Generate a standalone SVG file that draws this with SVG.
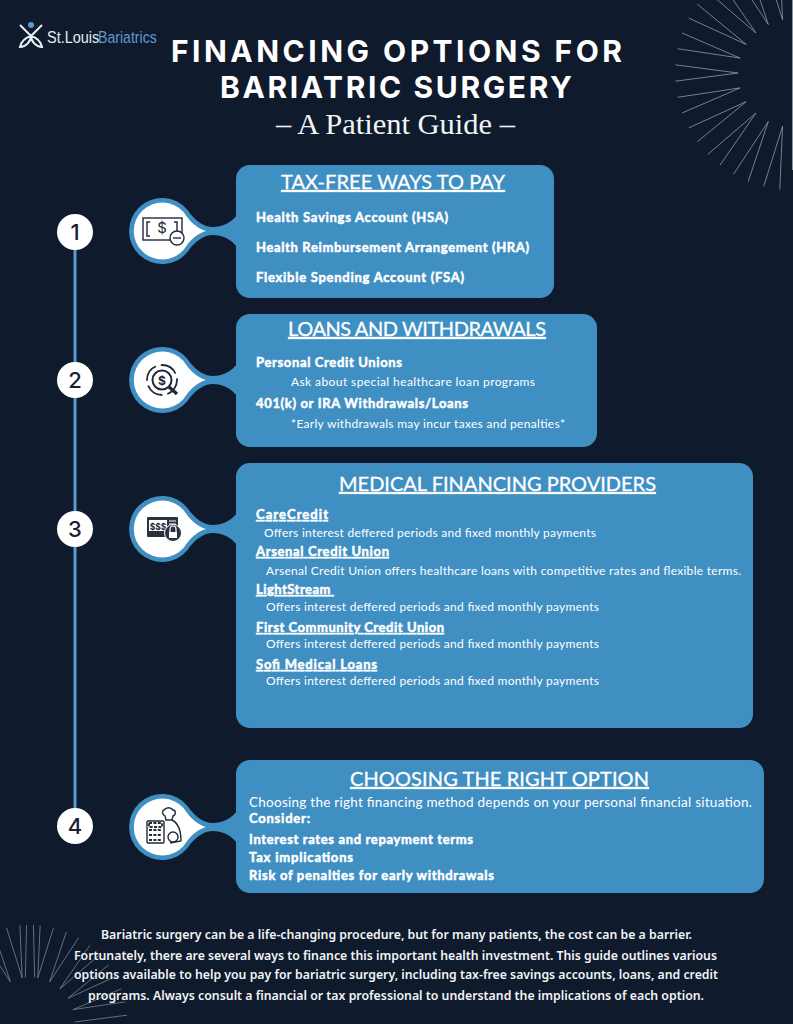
<svg xmlns="http://www.w3.org/2000/svg" xmlns:xlink="http://www.w3.org/1999/xlink" width="793" height="1024" viewBox="0 0 793 1024">
<style>
.t{font-family:"Lato","Liberation Sans",sans-serif;fill:#fff}
.h{font-size:20px;font-weight:400;text-decoration:underline;stroke:#fff;stroke-width:.3}
.b{font-size:13px;font-weight:700;stroke:#fff;stroke-width:.5}
.u{text-decoration:underline}
.r{font-size:12px;font-weight:400}
.f{font-family:"Noto Sans","Liberation Sans",sans-serif;font-size:13.3px;font-weight:600;fill:#f2f4f7}
.ti{font-family:"Inter","Liberation Sans",sans-serif;font-size:30px;font-weight:700;fill:#fff}
.num{font-family:"Inter","Liberation Sans",sans-serif;font-size:22px;font-weight:500;fill:#1a2130;text-anchor:middle}
.panel{fill:#3f8fc3}
.ic{fill:none;stroke:#222a38;stroke-width:1.4}
.icd{fill:#2a3140}
.ray{fill:none;stroke:#8f9bab;stroke-width:1;stroke-opacity:.8}
.logo{font-family:"Liberation Sans",sans-serif;font-size:17px}
</style>
<defs>
<g id="bubble">
<path fill="#3f8fc3" d="M25.5,-21C33,-10 42,-4 51,-4C60,-4 69,-8 75,-16L75,16C69,8 60,4 51,4C42,4 33,10 25.5,21A33,33 0 1 1 25.5,-21Z"/>
<path fill="#fff" d="M21.5,-19C28,-9 36,-2 44,0C36,2 28,9 21.5,19A28.5,28.5 0 1 1 21.5,-19Z"/>
</g>
</defs>
<rect width="793" height="1024" fill="#0f1a2c"/>
<g id="burst-top" transform="translate(792,73)">
<path class="ray" d="M-116.7,8.2L-54,0M-114.4,24.3L-51.9,14.9L-109.9,40M-103.3,54.9L-45.8,28.6L-94.7,68.8M-84.2,81.3L-36.1,40.1L-72,92.2M-58.5,101.3L-23.7,48.5L-43.8,108.5M-28.3,113.5L-9.4,53.2L-12.2,116.4"/>
<path class="ray" transform="scale(1,-1)" d="M-116.7,8.2L-54,0M-114.4,24.3L-51.9,14.9L-109.9,40M-103.3,54.9L-45.8,28.6L-94.7,68.8M-84.2,81.3L-36.1,40.1L-72,92.2M-58.5,101.3L-23.7,48.5L-43.8,108.5M-28.3,113.5L-9.4,53.2L-12.2,116.4"/>
</g>
<g id="burst-bottom" transform="translate(30,1022) scale(.83)">
<path class="ray" transform="scale(1,-1)" d="M-116.7,8.2L-54,0M-114.4,24.3L-51.9,14.9L-109.9,40M-103.3,54.9L-45.8,28.6L-94.7,68.8M-84.2,81.3L-36.1,40.1L-72,92.2M-58.5,101.3L-23.7,48.5L-43.8,108.5M-28.3,113.5L-9.4,53.2L-12.2,116.4M4.1,116.9L5.6,53.7"/>
<path class="ray" transform="scale(-1,-1)" d="M-116.7,8.2L-54,0M-114.4,24.3L-51.9,14.9L-109.9,40M-103.3,54.9L-45.8,28.6L-94.7,68.8M-84.2,81.3L-36.1,40.1L-72,92.2M-58.5,101.3L-23.7,48.5L-43.8,108.5M-28.3,113.5L-9.4,53.2L-12.2,116.4M4.1,116.9L5.6,53.7"/>
</g>
<rect x="792" y="0" width="1" height="170" fill="#8b93a0"/>

<g id="logo">
<circle cx="31" cy="25" r="3" fill="#5b9bd0"/>
<path d="M20,25L31,36L42,25M31,36C24,38 21,43 20,47C26,47 31,41 31,36C31,41 36,47 42,47C41,43 38,38 31,36Z" fill="none" stroke="#e8eef4" stroke-width="2"/>
<text class="logo" transform="translate(47,43) scale(.85,1)" fill="#e6ebf0">St.Louis</text>
<text class="logo" transform="translate(98,43) scale(.83,1)" fill="#5b9bd0">Bariatrics</text>
</g>

<g id="title">
<text class="ti" x="171" y="62" textLength="451">FINANCING OPTIONS FOR</text>
<text class="ti" x="220" y="98" textLength="352">BARIATRIC SURGERY</text>
<text x="276" y="134" font-family="Liberation Serif,serif" font-size="29" fill="#f2f4f7" textLength="239" lengthAdjust="spacingAndGlyphs">– A Patient Guide –</text>
</g>

<g id="connectors">
<line x1="75" y1="232" x2="75" y2="826" stroke="#5b9bd0" stroke-width="3"/>
</g>

<g id="step1">
<circle cx="75" cy="232" r="18" fill="#fff"/><text class="num" x="75" y="240">1</text>
<use xlink:href="#bubble" transform="translate(162,231)"/>
<rect class="panel" x="236" y="165" width="318" height="133" rx="14"/>
<g transform="translate(162,231)">
<rect class="ic" x="-19" y="-13" width="39" height="22"/>
<path class="ic" d="M-12,-9H-15V5H-12M12,-9H15V1"/>
<text x="0" y="2" text-anchor="middle" font-family="Inter,sans-serif" font-size="15" fill="#222a38">$</text>
<circle cx="15" cy="7" r="7" fill="#fff" stroke="#222a38" stroke-width="1.4"/><path class="ic" d="M11,7H19"/>
</g>
<text class="t h" x="281" y="189" textLength="224">TAX-FREE WAYS TO PAY</text>
<text class="t b" x="256" y="222" textLength="192">Health Savings Account (HSA)</text>
<text class="t b" x="256" y="252" textLength="273">Health Reimbursement Arrangement (HRA)</text>
<text class="t b" x="256" y="282" textLength="208">Flexible Spending Account (FSA)</text>
</g>

<g id="step2">
<circle cx="75" cy="380" r="18" fill="#fff"/><text class="num" x="75" y="388">2</text>
<use xlink:href="#bubble" transform="translate(162,380)"/>
<rect class="panel" x="236" y="314" width="361" height="133" rx="14"/>
<g transform="translate(162,380)">
<circle cx="0" cy="0" r="15" fill="none" stroke="#222a38" stroke-width="1.8" stroke-dasharray="18 5"/>
<circle cx="0" cy="0" r="9.5" fill="#fff" stroke="#222a38" stroke-width="2"/>
<text x="0" y="4.5" text-anchor="middle" font-family="Inter,sans-serif" font-size="12" font-weight="700" fill="#222a38">$</text>
<path d="M7,7L15,14" stroke="#222a38" stroke-width="3.4"/>
</g>
<text class="t h" x="288" y="336" textLength="258">LOANS AND WITHDRAWALS</text>
<text class="t b" x="256" y="367" textLength="146">Personal Credit Unions</text>
<text class="t r" x="291" y="386" textLength="244">Ask about special healthcare loan programs</text>
<text class="t b" x="256" y="408" textLength="212">401(k) or IRA Withdrawals/Loans</text>
<text class="t r" x="291" y="428" textLength="274">*Early withdrawals may incur taxes and penalties*</text>
</g>

<g id="step3">
<circle cx="75" cy="529" r="18" fill="#fff"/><text class="num" x="75" y="537">3</text>
<use xlink:href="#bubble" transform="translate(162,529)"/>
<rect class="panel" x="236" y="463" width="517" height="265" rx="14"/>
<g transform="translate(162,529)">
<rect class="icd" x="-15" y="-12" width="31" height="20" rx="1"/>
<rect x="-13" y="-9" width="18" height="11" fill="#fff"/>
<text x="-4" y="0.5" text-anchor="middle" font-family="Inter,sans-serif" font-size="8.5" font-weight="700" fill="#222a38">$$$</text>
<path d="M7,-8H14M7,-5H14" stroke="#fff"/>
<circle cx="11" cy="4" r="8.5" fill="#2a3140" stroke="#fff"/>
<path d="M8,3V0A3,3 0 0 1 14,0V3" fill="none" stroke="#fff" stroke-width="1.2"/>
<rect x="7" y="3" width="8" height="6" fill="#fff"/>
</g>
<text class="t h" x="339" y="491" textLength="317">MEDICAL FINANCING PROVIDERS</text>
<text class="t b u" x="256" y="519" textLength="72">CareCredit</text>
<text class="t r" x="264" y="537" textLength="332">Offers interest deffered periods and fixed monthly payments</text>
<text class="t b u" x="256" y="556" textLength="133">Arsenal Credit Union</text>
<text class="t r" x="266" y="575" textLength="475">Arsenal Credit Union offers healthcare loans with competitive rates and flexible terms.</text>
<text class="t b u" x="256" y="594" textLength="78" xml:space="preserve">LightStream </text>
<text class="t r" x="266" y="611" textLength="333">Offers interest deffered periods and fixed monthly payments</text>
<text class="t b u" x="256" y="632" textLength="188">First Community Credit Union</text>
<text class="t r" x="266" y="648" textLength="333">Offers interest deffered periods and fixed monthly payments</text>
<text class="t b u" x="256" y="669" textLength="121">Sofi Medical Loans</text>
<text class="t r" x="266" y="685" textLength="333">Offers interest deffered periods and fixed monthly payments</text>
</g>

<g id="step4">
<circle cx="75" cy="826" r="18" fill="#fff"/><text class="num" x="75" y="834">4</text>
<use xlink:href="#bubble" transform="translate(162,827)"/>
<rect class="panel" x="236" y="760" width="528" height="133" rx="14"/>
<g transform="translate(162,827)">
<rect class="ic" x="-15" y="-6" width="17" height="22" rx="1"/>
<path d="M-13,-4H0V0H-13ZM-13,3H0M-13,8H0M-13,13H0" fill="none" stroke="#222a38" stroke-width="1.8" stroke-dasharray="3 1.4"/>
<path class="ic" d="M2,-17C4,-20 9,-20 11,-17C14,-17 14,-12 11,-11L10,-7H4L3,-11C0,-12 0,-17 2,-17ZM10,-7C16,-4 19,4 19,14L8,16"/>
<circle class="ic" cx="11" cy="10" r="5"/>
</g>
<text class="t h" x="350" y="786" textLength="299">CHOOSING THE RIGHT OPTION</text>
<text class="t" x="249" y="807" font-size="13.5" textLength="503">Choosing the right financing method depends on your personal financial situation.</text>
<text class="t b" x="249" y="823" textLength="61">Consider:</text>
<text class="t b" x="249" y="844" textLength="224">Interest rates and repayment terms</text>
<text class="t b" x="249" y="862" textLength="104">Tax implications</text>
<text class="t b" x="249" y="880" textLength="245">Risk of penalties for early withdrawals</text>
</g>

<g id="intro">
<text class="f" x="101" y="939" textLength="591" lengthAdjust="spacingAndGlyphs">Bariatric surgery can be a life-changing procedure, but for many patients, the cost can be a barrier.</text>
<text class="f" x="74" y="960" textLength="643" lengthAdjust="spacingAndGlyphs">Fortunately, there are several ways to finance this important health investment. This guide outlines various</text>
<text class="f" x="74" y="979" textLength="644" lengthAdjust="spacingAndGlyphs">options available to help you pay for bariatric surgery, including tax-free savings accounts, loans, and credit</text>
<text class="f" x="88" y="1000" textLength="616" lengthAdjust="spacingAndGlyphs">programs. Always consult a financial or tax professional to understand the implications of each option.</text>
</g>
</svg>
